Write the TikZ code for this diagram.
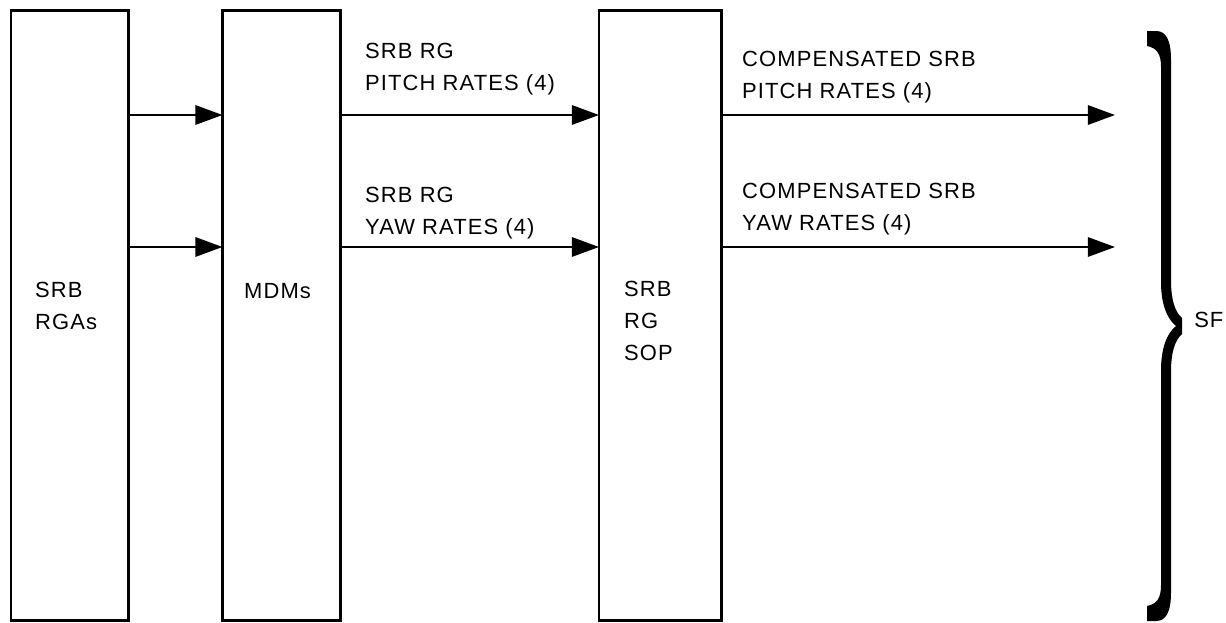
\documentclass[tikz,border=0pt]{standalone}
\usepackage{fontspec}
\setmainfont{Liberation Sans}[LetterSpace=5]
\usetikzlibrary{arrows.meta}
\begin{document}
\begin{tikzpicture}[x=0.02cm, y=-0.02cm, line width=1.4pt,
  every node/.style={font=\fontsize{12.5}{18}\selectfont},
  unit/.style={draw, rectangle, inner sep=0pt, outer sep=0pt, minimum height=610*0.02cm},
  lbl/.style={anchor=base west, align=left, inner sep=0pt},
  arr/.style={-{Triangle[length=15.5pt, width=11pt]}}]
\useasboundingbox (0,0) rectangle (1226,622);
% blocks
\node[unit, minimum width=117.5*0.02cm] (rga) at (69.75,315.5) {};
\node[unit, minimum width=118*0.02cm] (mdm) at (281.5,315.5) {};
\node[unit, minimum width=122.5*0.02cm] (sop) at (660.25,315.5) {};
\node[lbl] (rgatxt) at (34,329) {SRB\\RGAs};
\node[lbl] (mdmtxt) at (243,298) {MDMs};
\node[lbl] (soptxt) at (623,360) {SRB\\RG\\SOP};
% signal rows
\coordinate (pitch) at (0,115);
\coordinate (yaw) at (0,247);
\coordinate (sfp) at (1115,115);
\coordinate (sfy) at (1115,247);
\draw[arr] (rga.east |- pitch) -- (mdm.west |- pitch);
\draw[arr] (rga.east |- yaw) -- (mdm.west |- yaw);
\draw[arr] (mdm.east |- pitch) -- (sop.west |- pitch);
\draw[arr] (mdm.east |- yaw) -- (sop.west |- yaw);
\draw[arr] (sop.east |- pitch) -- (sfp);
\draw[arr] (sop.east |- yaw) -- (sfy);
\node[lbl] (rawp) at (364,90) {SRB RG\\PITCH RATES (4)};
\node[lbl] (rawy) at (364,234) {SRB RG\\YAW RATES (4)};
\node[lbl] (compp) at (741,98) {COMPENSATED SRB\\PITCH RATES (4)};
\node[lbl] (compy) at (741,230) {COMPENSATED SRB\\YAW RATES (4)};
% brace
\fill (1147,31) -- (1156,31) .. controls (1166,31) and (1171,40) .. (1171,60)
  -- (1171,280) .. controls (1171,300) and (1175,312) .. (1182,318)
  -- (1182,334) .. controls (1175,340) and (1171,352) .. (1171,372)
  -- (1171,592) .. controls (1171,612) and (1166,621) .. (1156,621)
  -- (1147,621) -- (1147,606) .. controls (1157,604) and (1161,598) .. (1161,585)
  -- (1161,370) .. controls (1161,350) and (1166,334) .. (1176,326)
  .. controls (1166,318) and (1161,302) .. (1161,282)
  -- (1161,67) .. controls (1161,54) and (1157,48) .. (1147,46) -- cycle;
\node[lbl] (sf) at (1193,327) {SF};
\end{tikzpicture}
\end{document}
